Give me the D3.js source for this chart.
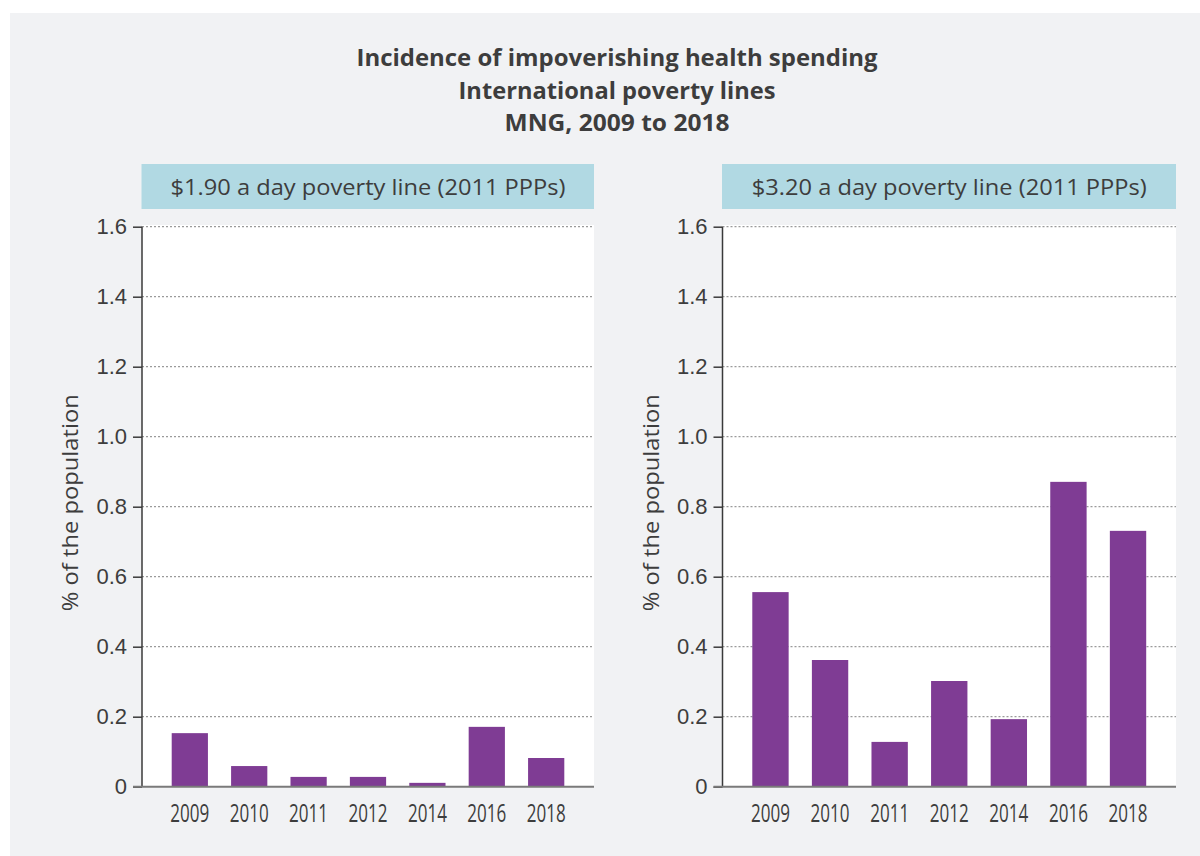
<!DOCTYPE html>
<html>
<head>
<meta charset="utf-8">
<script src="https://cdn.jsdelivr.net/npm/d3@7"></script>
<style>
  html, body { margin: 0; padding: 0; background: #ffffff; }
  svg { display: block; }
</style>
</head>
<body>
<svg id="chart" width="1200" height="856"></svg>
<script>
// ---- Data ----
const titleLines = ["Incidence of impoverishing health spending", "International poverty lines", "MNG, 2009 to 2018"];
const years = ["2009", "2010", "2011", "2012", "2014", "2016", "2018"];
const panelTitles = ["$1.90 a day poverty line (2011 PPPs)", "$3.20 a day poverty line (2011 PPPs)"];
const values190 = [0.153, 0.059, 0.028, 0.028, 0.011, 0.171, 0.082];
const values320 = [0.556, 0.362, 0.128, 0.302, 0.193, 0.871, 0.731];
const yTicks = [0, 0.2, 0.4, 0.6, 0.8, 1.0, 1.2, 1.4, 1.6];
const yLabel = "% of the population";

// ---- Styles ----
const C = {
  bg: "#f1f2f4", plot: "#ffffff", bar: "#7f3c94", header: "#b1d9e3",
  text: "#3d3d3d", grid: "#9a9a9a", axis: "#3a3a3a", base: "#7a7a7a"
};

const svg = d3.select("#chart");
svg.append("rect").attr("x", 10).attr("y", 13).attr("width", 1190).attr("height", 843).attr("fill", C.bg);

// Title
const title = svg.append("text").attr("text-anchor", "middle")
  .attr("font-family", "'Open Sans', sans-serif").attr("font-weight", 700)
  .attr("font-size", 23).attr("fill", C.text);
titleLines.forEach((t, i) => {
  title.append("tspan").attr("x", 617).attr("y", 66 + i * 32.5).text(t);
});
const titleWidths = [521, 317, 225];
title.selectAll("tspan").each(function(d, i) {
  d3.select(this).attr("textLength", titleWidths[i]).attr("lengthAdjust", "spacingAndGlyphs");
});

const panels = [
  { x0: 142, x1: 594, values: values190, title: panelTitles[0] },
  { x0: 722.5, x1: 1176, values: values320, title: panelTitles[1] }
];
const yTop = 226.7, yBot = 786.7;
const y = d3.scaleLinear().domain([0, 1.6]).range([yBot, yTop]);

panels.forEach(p => {
  const g = svg.append("g");
  const x = d3.scaleBand().domain(years).range([p.x0, p.x1]).paddingInner(0.39).paddingOuter(0.5);

  // header
  g.append("rect").attr("x", p.x0 - 0.5).attr("y", 164).attr("width", p.x1 - p.x0 + 0.5).attr("height", 45)
    .attr("fill", C.header);
  g.append("text").attr("x", (p.x0 + p.x1) / 2).attr("y", 194.5).attr("text-anchor", "middle")
    .attr("font-family", "'Open Sans', sans-serif").attr("font-size", 21).attr("fill", C.text)
    .attr("textLength", 395).attr("lengthAdjust", "spacingAndGlyphs")
    .text(p.title);

  // plot bg
  g.append("rect").attr("x", p.x0).attr("y", 225).attr("width", p.x1 - p.x0).attr("height", yBot - 225)
    .attr("fill", C.plot);

  // grid
  g.selectAll("line.grid").data(yTicks.filter(d => d > 0)).join("line")
    .attr("class", "grid")
    .attr("x1", p.x0).attr("x2", p.x1)
    .attr("y1", d => y(d)).attr("y2", d => y(d))
    .attr("stroke", C.grid).attr("stroke-width", 1.3).attr("stroke-dasharray", "2,2");

  // bars
  g.selectAll("rect.bar").data(p.values).join("rect")
    .attr("class", "bar")
    .attr("x", (d, i) => x(years[i]))
    .attr("width", x.bandwidth())
    .attr("y", d => y(d))
    .attr("height", d => yBot - y(d))
    .attr("fill", C.bar);

  // y axis
  const yAxis = d3.axisLeft(y).tickValues(yTicks).tickSize(9).tickPadding(6)
    .tickFormat(d => d === 0 ? "0" : d3.format(".1f")(d));
  const ya = g.append("g").attr("transform", `translate(${p.x0},0)`).call(yAxis);
  ya.select(".domain").attr("stroke", C.axis).attr("stroke-width", 1.5)
    .attr("d", `M0,${yTop}V${yBot}`);
  ya.selectAll(".tick line").attr("stroke", C.axis).attr("stroke-width", 1.5);
  ya.selectAll(".tick text").attr("font-family", "'Liberation Sans', Arial, sans-serif")
    .attr("font-size", 22).attr("fill", C.text);

  // baseline
  g.append("line").attr("x1", p.x0 - 9).attr("x2", p.x1).attr("y1", yBot).attr("y2", yBot)
    .attr("stroke", C.base).attr("stroke-width", 2);

  // x labels (condensed)
  const xAxis = d3.axisBottom(x).tickSize(0).tickPadding(0);
  const xa = g.append("g").attr("transform", `translate(0,${yBot})`).call(xAxis);
  xa.select(".domain").remove();
  xa.selectAll(".tick text").attr("font-family", "'Open Sans', sans-serif")
    .attr("font-size", 25).attr("fill", C.text).attr("dy", null).attr("y", 35)
    .attr("textLength", 39).attr("lengthAdjust", "spacingAndGlyphs");

  // y label
  g.append("text")
    .attr("transform", `translate(${p.x0 - 64},${(yTop + yBot) / 2 - 4}) rotate(-90)`)
    .attr("text-anchor", "middle")
    .attr("font-family", "'Open Sans', sans-serif").attr("font-size", 22).attr("fill", C.text)
    .attr("textLength", 217).attr("lengthAdjust", "spacingAndGlyphs")
    .text(yLabel);
});
</script>
</body>
</html>
